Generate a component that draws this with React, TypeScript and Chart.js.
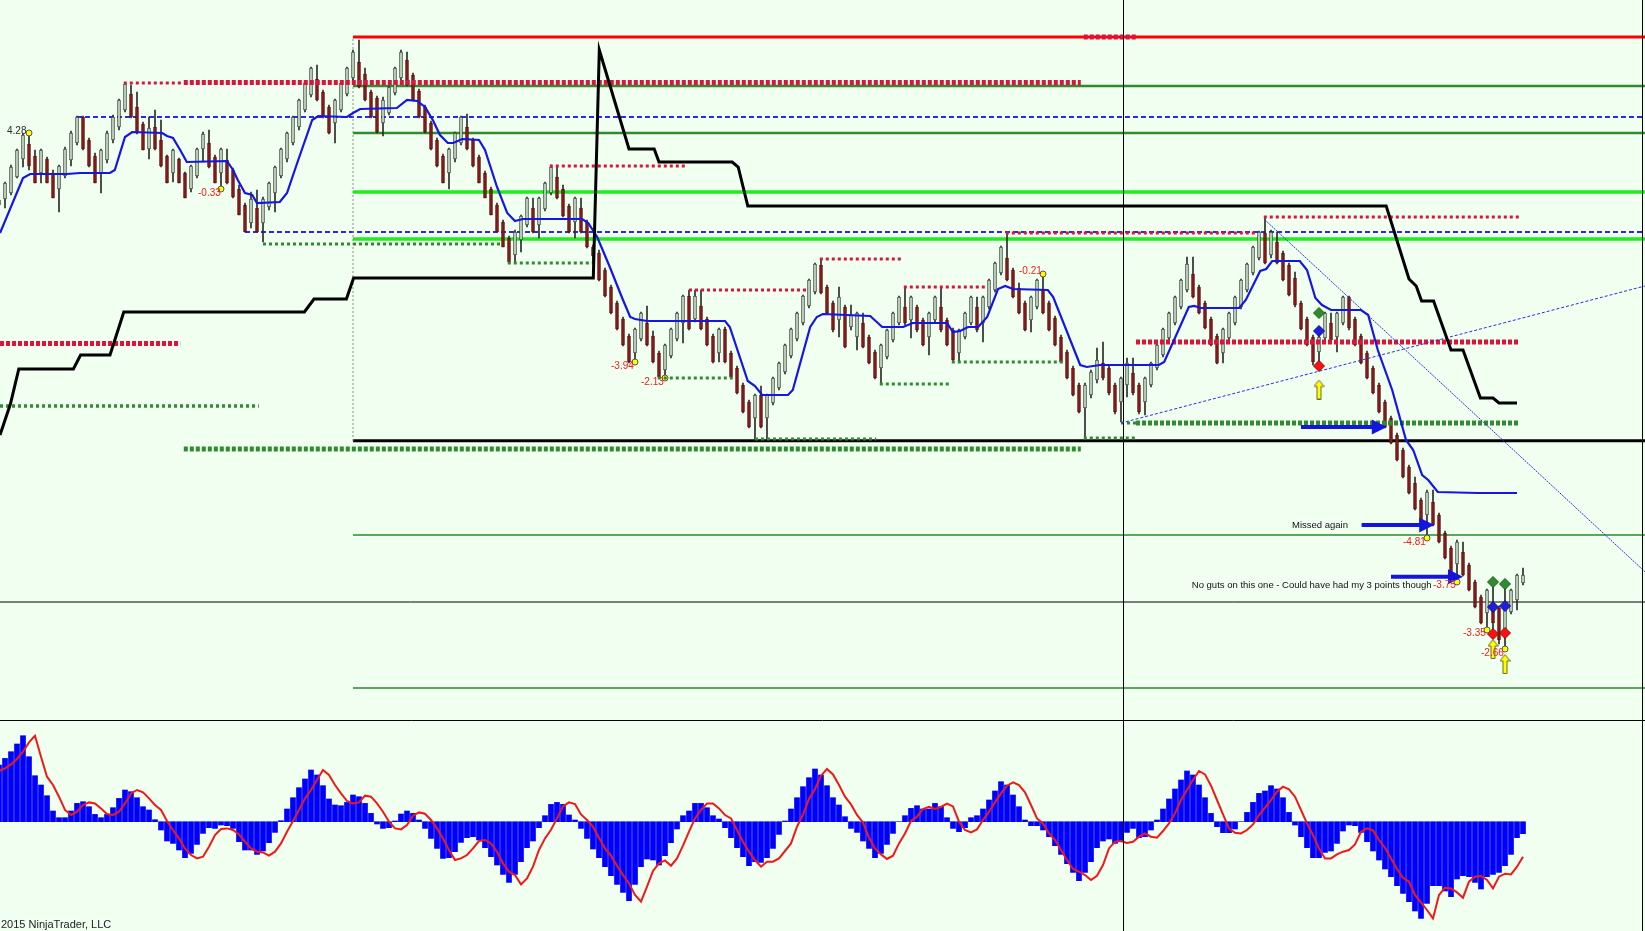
import React, { useEffect, useRef } from "react";
import { Chart, registerables } from "chart.js";

Chart.register(...registerables);

// ---------- visible window (bar index units) ----------
const firstVisibleBar = 1 / 6;
const lastVisibleBar = 1646 / 6;

// ---------- range-bar candles, bar 0..254 ----------
const candleOpen = [
  515, 521, 527, 543, 561, 576, 564, 547, 561, 547,
  531, 544, 560, 577, 603, 580, 564, 547, 560, 580,
  593, 610, 626, 613, 596, 571, 593, 580, 564, 547,
  561, 547, 531, 544, 571, 577, 563, 547, 560, 550,
  531, 515, 497, 512, 497, 513, 527, 544, 561, 577,
  593, 610, 625, 641, 628, 613, 597, 610, 626, 642,
  658, 646, 628, 622, 597, 607, 627, 642, 660, 645,
  629, 613, 597, 580, 564, 547, 561, 577, 593, 580,
  563, 547, 531, 515, 498, 482, 465, 480, 495, 512,
  495, 511, 527, 543, 531, 514, 498, 512, 498, 473,
  467, 450, 433, 417, 401, 384, 367, 381, 397, 384,
  367, 350, 364, 381, 397, 424, 401, 414, 401, 384,
  367, 391, 367, 352, 335, 318, 302, 325, 302, 317,
  332, 348, 364, 381, 397, 414, 428, 455, 433, 417,
  400, 413, 393, 383, 397, 383, 368, 352, 363, 380,
  397, 413, 400, 413, 400, 383, 400, 413, 400, 390,
  367, 383, 397, 413, 397, 413, 430, 447, 462, 450,
  432, 417, 400, 413, 430, 417, 402, 383, 368, 352,
  335, 312, 325, 340, 357, 352, 335, 318, 335, 347,
  335, 318, 335, 352, 365, 382, 397, 413, 430, 446,
  433, 417, 401, 384, 367, 382, 397, 413, 430, 447,
  462, 487, 465, 478, 467, 455, 442, 417, 401, 383,
  368, 382, 397, 383, 397, 423, 401, 384, 367, 352,
  335, 318, 302, 285, 270, 253, 237, 220, 205, 218,
  205, 187, 172, 156, 168, 155, 138, 123, 107, 117,
  112, 90, 108, 120, 137,
];
const candleHigh = [
  522, 538, 555, 571, 586, 588, 570, 571, 563, 550,
  555, 573, 589, 604, 604, 582, 567, 571, 589, 605,
  621, 637, 635, 628, 598, 603, 610, 600, 565, 571,
  562, 548, 555, 572, 588, 590, 565, 572, 571, 552,
  535, 517, 528, 530, 523, 538, 554, 572, 588, 604,
  621, 638, 653, 655, 630, 615, 621, 638, 653, 670,
  680, 652, 630, 624, 623, 634, 653, 670, 668, 647,
  631, 615, 599, 582, 566, 572, 588, 604, 606, 582,
  565, 549, 533, 517, 500, 484, 490, 505, 523, 522,
  523, 538, 555, 553, 535, 516, 523, 522, 500, 475,
  470, 452, 435, 419, 403, 386, 392, 408, 414, 389,
  369, 376, 392, 408, 425, 430, 430, 430, 403, 386,
  392, 393, 369, 354, 337, 320, 326, 334, 326, 343,
  358, 376, 392, 408, 425, 441, 457, 460, 435, 419,
  433, 415, 415, 408, 407, 385, 370, 376, 391, 408,
  424, 433, 424, 415, 402, 408, 424, 432, 402, 392,
  391, 408, 424, 423, 424, 441, 458, 474, 487, 452,
  437, 419, 424, 441, 446, 419, 404, 385, 370, 354,
  337, 337, 350, 372, 378, 355, 337, 343, 362, 362,
  337, 343, 358, 376, 392, 408, 424, 441, 463, 463,
  435, 419, 403, 386, 392, 408, 424, 441, 457, 474,
  489, 502, 490, 488, 469, 457, 448, 419, 403, 385,
  387, 408, 407, 408, 424, 424, 403, 386, 369, 354,
  337, 320, 304, 287, 272, 255, 243, 222, 230, 230,
  207, 189, 174, 180, 178, 157, 140, 125, 131, 138,
  114, 137, 131, 146, 152,
];
const candleLow = [
  510, 512, 525, 542, 553, 550, 537, 537, 537, 522,
  508, 542, 554, 575, 570, 553, 537, 527, 557, 577,
  590, 608, 602, 586, 570, 561, 570, 553, 537, 538,
  537, 522, 528, 542, 558, 552, 537, 531, 536, 522,
  505, 488, 492, 488, 478, 510, 508, 542, 558, 575,
  590, 608, 623, 619, 602, 586, 577, 608, 624, 640,
  632, 619, 602, 587, 584, 605, 625, 640, 634, 619,
  602, 587, 570, 553, 537, 531, 558, 575, 570, 553,
  537, 522, 505, 488, 473, 457, 458, 468, 493, 487,
  482, 509, 525, 521, 503, 487, 482, 487, 472, 458,
  439, 423, 406, 390, 374, 357, 358, 379, 374, 357,
  342, 342, 362, 379, 377, 390, 398, 390, 374, 357,
  358, 357, 342, 326, 307, 292, 281, 292, 281, 315,
  330, 346, 362, 379, 395, 412, 426, 426, 406, 388,
  383, 372, 390, 370, 372, 356, 341, 336, 361, 378,
  395, 395, 382, 388, 374, 365, 398, 388, 374, 358,
  359, 381, 395, 388, 378, 411, 428, 445, 439, 422,
  406, 389, 388, 411, 406, 389, 374, 358, 341, 324,
  307, 282, 322, 337, 340, 325, 306, 298, 323, 325,
  306, 305, 333, 350, 363, 380, 395, 411, 428, 422,
  406, 391, 374, 356, 357, 380, 395, 411, 428, 445,
  460, 456, 462, 456, 439, 424, 413, 390, 374, 355,
  357, 380, 378, 368, 395, 390, 374, 356, 341, 326,
  307, 292, 276, 259, 242, 226, 210, 196, 182, 194,
  177, 161, 144, 138, 144, 129, 112, 96, 90, 86,
  76, 71, 106, 110, 135,
];
const candleClose = [
  520, 537, 553, 570, 585, 554, 537, 570, 537, 522,
  554, 571, 587, 603, 571, 554, 537, 570, 587, 603,
  620, 636, 603, 587, 570, 592, 571, 554, 537, 570,
  537, 522, 554, 571, 586, 553, 537, 571, 537, 523,
  505, 488, 521, 488, 521, 537, 553, 571, 587, 603,
  620, 637, 652, 620, 603, 587, 620, 637, 652, 668,
  633, 620, 603, 588, 620, 633, 652, 668, 635, 620,
  603, 588, 571, 554, 537, 571, 587, 603, 571, 554,
  537, 522, 505, 488, 473, 458, 488, 504, 522, 488,
  522, 537, 553, 522, 504, 488, 522, 488, 473, 464,
  440, 424, 407, 391, 375, 358, 391, 407, 375, 358,
  343, 375, 391, 407, 424, 391, 424, 391, 375, 358,
  391, 358, 343, 327, 308, 293, 325, 293, 325, 342,
  357, 375, 391, 407, 424, 440, 456, 427, 407, 390,
  423, 373, 405, 407, 373, 357, 342, 375, 390, 407,
  423, 397, 423, 390, 375, 407, 423, 390, 375, 360,
  390, 407, 423, 390, 423, 440, 457, 473, 440, 423,
  407, 390, 423, 440, 407, 390, 375, 358, 342, 325,
  308, 335, 348, 360, 342, 327, 308, 342, 357, 327,
  308, 342, 357, 375, 391, 407, 423, 440, 456, 423,
  407, 392, 375, 357, 391, 407, 423, 440, 456, 473,
  488, 457, 488, 457, 440, 425, 415, 391, 375, 358,
  383, 407, 380, 407, 423, 392, 375, 357, 342, 327,
  308, 293, 277, 260, 243, 227, 211, 197, 228, 195,
  178, 162, 145, 178, 145, 130, 113, 97, 130, 97,
  80, 113, 130, 145, 145,
];

// ---------- smoothed average (blue) vertices [bar, price] ----------
const averagePath = [
  [0.17, 487], [4, 542], [5.2, 546], [11.3, 546], [13.5, 547], [18.5, 547], [19.3, 550], [21, 583],
  [22.2, 588], [27.2, 587], [28, 584], [29, 582], [30.2, 570], [31.3, 558], [38, 559], [39, 550],
  [39.8, 540], [41, 527], [42.2, 525], [43, 517], [46.8, 518], [48, 527], [49.7, 557], [52.2, 600],
  [53.2, 604], [58, 603], [59, 607], [60.2, 611], [66.3, 612], [68, 620], [69.7, 619], [71, 613],
  [72.3, 600], [73.5, 585], [74.8, 577], [75.7, 577], [77.2, 581], [80, 580], [81, 570], [83, 533],
  [84.7, 507], [86, 499], [87.3, 501], [97.2, 501], [98.2, 497], [99.7, 483], [101.8, 453], [104, 420],
  [105.2, 403], [106, 401], [108, 399], [121, 399], [121.8, 393], [124.8, 339], [126, 334], [127.2, 325],
  [131.5, 325], [132.3, 330], [135.2, 393], [136.3, 403], [137.3, 406], [145.2, 404], [147.2, 393],
  [150.7, 393], [152.3, 397], [158, 397], [159, 388], [160.2, 389], [161.5, 393], [163.2, 393],
  [164.7, 403], [166.5, 431], [167.7, 434], [169, 431], [174.8, 430], [175.7, 423], [180.2, 355],
  [181.3, 353], [183.5, 355], [193.3, 355], [194.2, 358], [198.3, 413], [199.2, 414], [200.3, 412],
  [206.7, 412], [207.8, 420], [210.2, 449], [211.2, 451], [212.2, 459], [216.8, 459], [218, 450],
  [219.4, 422], [220.5, 415], [222, 410], [227, 410], [228.2, 405], [229.8, 370], [232.2, 330],
  [234.5, 280], [235.7, 270], [237.2, 245], [238.2, 240], [239.8, 228], [246.5, 227], [253, 227],
];

// ---------- stepped trailing line (black) vertices [bar, price] ----------
const trailPath = [
  [0.17, 285], [1.9, 316], [3.3, 351], [12.4, 351], [13.6, 365], [18.5, 365], [20.8, 408], [50.9, 408],
  [52.5, 421], [57.9, 421], [59.1, 442], [99.05, 442], [100.05, 670], [105, 571], [109.2, 571], [110, 558],
  [122.2, 558], [123.2, 553], [124.8, 514], [231.2, 514], [235, 441], [236.2, 434], [237.1, 419],
  [239.1, 419], [242, 370], [244, 370], [246.9, 322], [249, 322], [250, 317], [253, 317],
];

// ---------- horizontal levels ----------
const levelStartBar = 59;
const redLevels = [683];
const darkGreenLevels = [634, 587];
const limeLevels = [528, 481];
const blackLevels = [279.3];
const thinGreenLevels = [185, 32];
const blueDashLevels = [[13, 603], [41, 488]]; // [start bar, price]

// swing dots [from bar, to bar, price]
const swingHighDots = [
  [20.8, 30.8, 637], [91.8, 114.5, 554], [115, 134.5, 430], [136.8, 150.5, 461],
  [150.8, 164.7, 433], [167.8, 209.5, 487], [210.8, 253.5, 503],
];
const swingLowDots = [
  [44, 83.5, 476], [84.8, 99.3, 457], [109.8, 122.3, 342], [126, 146.2, 281],
  [146.8, 158.5, 336], [158.8, 177.3, 358], [180.8, 189.5, 282], [187, 189.5, 297],
];
const majorHighDots = [[0.17, 30.2, 376.5], [30.8, 180.3, 637.5], [180.8, 189.5, 683], [189.5, 253.5, 378]];
const majorLowDots = [[30.8, 180.3, 271], [189.5, 253.5, 297]];
const minorLowDots = [[0.17, 43.3, 314]];

// trend lines [bar a, price a, bar b, price b]
const trendLines = [[211, 500, 274.3, 148.4], [187, 297, 274.3, 434]];
const sessionBar = 59;
const sessionSpan = [279, 683];
const crosshairBar = 187.42;
const crosshairPrice = 118;

// markers
const swingDots = [[5, 587], [37, 531], [106, 358], [174, 446], [238, 182], [243, 138], [248, 90], [251, 71]];
const swingDotsCovered = [[111, 342]];
const greenDiamonds = [[220, 407], [249, 138], [251, 136]];
const blueDiamonds = [[220, 389], [249, 113], [251, 114]];
const redDiamonds = [[220, 354], [249, 86], [251, 87]];
const entryArrows = [[220, 330.5], [249, 71], [251, 56]];
const noteArrows = [[217, 231.3, 293], [227.1, 239.2, 195], [232, 244, 143.3]]; // [from bar, to bar, price]

const swingLabels: [number, number, string][] = [
  [1.33, 589, "4.28"], [33.17, 527, "-0.33"], [102, 354, "-3.94"], [107, 338, "-2.13"],
  [170, 449, "-0.21"], [234, 178, "-4.81"], [239, 135, "-3.75"], [244, 87, "-3.35"], [247, 67, "-2.66"],
];
const noteTexts: [number, number, string][] = [
  [215.5, 195, "Missed again"],
  [198.8, 135, "No guts on this one - Could have had my 3 points though"],
];

// ---------- oscillator ----------
const oscHistogram = [
  56.7, 63.3, 70, 77.7, 86, 65, 46, 36.7, 26, 10.7,
  4, 4, 10.7, 18.3, 20, 15, 7.3, 4, 7.3, 14,
  23.3, 31.7, 30, 24, 15, 11.7, 2, -8.3, -19.3, -21.7,
  -28.3, -36, -31.7, -22.7, -11.7, -6, -6.7, -3.3, -4, -6.7,
  -20, -28.3, -28.3, -32.7, -29.3, -21, -10.7, 1, 12.7, 24,
  34, 42.7, 51.7, 46.7, 36, 22.7, 16.7, 16, 19.3, 26.7,
  25, 18.3, 8.3, -2.3, -6.7, -6, 0.7, 7.7, 10.7, 8.3,
  1.7, -6.7, -16.7, -26.7, -36.7, -36, -30, -20.7, -16, -15,
  -18.3, -26, -35, -43.3, -52.7, -60.7, -52.7, -40, -26, -19.3,
  -6, 6, 17.3, 19.3, 17.3, 6.7, 1.7, -6.7, -16.7, -27.3,
  -36, -45, -54, -62.7, -70.7, -79, -62.7, -45, -37.3, -38.3,
  -43.3, -34, -21, -7.3, 6, 10.7, 18.3, 18.3, 14, 6,
  2.7, -6, -16, -26, -35, -44, -40, -40.7, -36, -26.7,
  -12.7, 0.7, 12.7, 24, 35, 44, 52.7, 46.7, 36, 24,
  16.7, 5, -6.7, -10.7, -19.3, -26.7, -36, -31.7, -22.7, -11.7,
  0, 6, 13.3, 16, 12.7, 12.7, 18.3, 15, 4, -6.7,
  -10, -6, 4, 6, 12.7, 21.7, 30.7, 40, 36.7, 26.7,
  15, 1.7, -4, -4, -8.3, -15, -24, -32.7, -42, -50.7,
  -59, -50.7, -40, -26, -19.3, -17.3, -21.7, -19.3, -10.7, -6.7,
  -16, -15, -8.3, 1.7, 12.7, 22.7, 32.7, 41.7, 50.7, 46.7,
  36.7, 24, 8.3, -5, -11, -11, -7.3, 0, 9.3, 19.3,
  28.3, 30.7, 36, 32.7, 24, 9.3, -3.3, -15, -26, -36,
  -36, -30.7, -29.3, -21.7, -9.3, -3.3, -4, -10.7, -20, -29.3,
  -38.3, -47.3, -55, -64, -71.7, -80, -89.3, -96.7, -81.7, -64,
  -64, -69.3, -75, -57.3, -54, -55, -60.7, -67.3, -55, -52.7,
  -50.7, -44, -32.7, -16, -12,
];
const oscSignal = [
  50.7, 53.3, 57.3, 62.7, 70, 79.3, 86, 65, 45, 36.7,
  25, 11.7, 6.7, 10, 16.7, 19.3, 18.3, 13.3, 7.7, 6.7,
  10, 18.3, 28.3, 31.7, 29.3, 23.3, 16.7, 11.7, 0.7, -8.3,
  -16.7, -26.7, -33.3, -36.7, -35, -25, -13.3, -7.3, -6.7, -8.3,
  -12.7, -20, -26.7, -30, -30.7, -34, -30, -21.7, -10, 0.7,
  11.7, 23.3, 31.7, 41.7, 51.7, 46.7, 36.7, 28.3, 20.7, 18.3,
  19.3, 26, 25, 18.3, 10, 0, -6.7, -7.7, -3.3, 6,
  9.3, 8, 1.7, -6.7, -16.7, -28.3, -38.3, -36.7, -33.3, -26.7,
  -19.3, -18.3, -21.7, -30, -41.7, -50, -53.3, -62.7, -56.7, -45,
  -28.3, -16.7, -8, 3.3, 15.3, 19.3, 17.7, 7.3, 1.7, -5,
  -16, -26.7, -34, -44, -53.3, -61.7, -73.3, -80, -65, -49.3,
  -41.7, -38.7, -44, -36.7, -24, -10, 3.3, 11.7, 18.3, 18.3,
  13.3, 6.7, 3.3, -8.3, -20, -30, -38.3, -45, -40, -40,
  -36.7, -29.3, -21.7, -5, 7.3, 22.7, 32.7, 46, 52.7, 47.3,
  36.7, 25, 17.3, 6.7, -0.7, -16, -26.7, -32.7, -37.3, -34,
  -21.7, -11.7, 0.7, 5, 12.7, 15, 12.7, 14.7, 18, 15.3,
  0, -8.3, -10.7, -7.7, 1.7, 10, 19.3, 28.3, 36, 39.3,
  36.7, 29.3, 16.7, 3.3, -1.7, -11.7, -18.3, -28.3, -38.3, -47.3,
  -50, -53.3, -58.3, -54, -43.3, -26.7, -20, -19.3, -21.3, -20,
  -15, -11.7, -15, -16, -9.3, -1.7, 8.3, 21.7, 31.7, 41.7,
  50.7, 47.3, 36, 21.7, 7.3, -6.7, -11, -11.7, -8.3, -2.7,
  6.7, 14, 21.7, 30, 35, 32.3, 25, 11.7, -1.7, -13.3,
  -26.7, -36.7, -36.7, -32.7, -30, -28.3, -22.7, -10, -6.7, -8.7,
  -18.3, -26, -36.7, -47.3, -56, -60, -73.3, -80.7, -88.3, -96.7,
  -73.3, -66, -66.7, -70.7, -76, -60, -55, -54.3, -58.3, -66.7,
  -55, -52, -52.7, -45, -35,
];

// ---------- helpers ----------
const segs = (list: number[][]) =>
  list.flatMap(([a, b, p]) => [{ x: a, y: p }, { x: b, y: p }, { x: b, y: null as any }]);
const pts = (list: number[][]) => list.map(([a, b]) => ({ x: a, y: b }));

const lineDs = (data: any[], color: string, width: number, order: number, dash: number[] = []) => ({
  type: "line",
  data,
  borderColor: color,
  borderWidth: width,
  borderDash: dash,
  borderCapStyle: "butt",
  pointRadius: 0,
  fill: false,
  tension: 0,
  spanGaps: false,
  order,
});

const markerDs = (data: any[], style: any, radius: number, fill: string, stroke: string, order: number) => ({
  type: "line",
  data,
  showLine: false,
  pointStyle: style,
  pointRadius: radius,
  pointBackgroundColor: fill,
  pointBorderColor: stroke,
  pointBorderWidth: 1,
  order,
});

function makeUpArrow() {
  const c = document.createElement("canvas");
  c.width = 11;
  c.height = 20;
  const g = c.getContext("2d")!;
  g.beginPath();
  g.moveTo(5.5, 0.5);
  g.lineTo(10.5, 7);
  g.lineTo(7.5, 7);
  g.lineTo(7.5, 19.5);
  g.lineTo(3.5, 19.5);
  g.lineTo(3.5, 7);
  g.lineTo(0.5, 7);
  g.closePath();
  g.fillStyle = "#ffff00";
  g.fill();
  g.strokeStyle = "#6b6b30";
  g.lineWidth = 1;
  g.stroke();
  return c;
}

const FONT = "'Liberation Sans', Arial, sans-serif";

const mainOverlay = {
  id: "mainOverlay",
  afterDatasetsDraw(chart: any) {
    const { ctx, chartArea } = chart;
    const x = chart.scales.x;
    const y = chart.scales.y;
    ctx.save();
    ctx.strokeStyle = "#1414dc";
    ctx.fillStyle = "#1414dc";
    ctx.lineWidth = 4;
    for (const [a, b, p] of noteArrows) {
      const x1 = x.getPixelForValue(a);
      const x2 = x.getPixelForValue(b);
      const yy = y.getPixelForValue(p);
      ctx.beginPath();
      ctx.moveTo(x1, yy);
      ctx.lineTo(x2 - 12, yy);
      ctx.stroke();
      ctx.beginPath();
      ctx.moveTo(x2, yy);
      ctx.lineTo(x2 - 15, yy - 7.5);
      ctx.lineTo(x2 - 15, yy + 7.5);
      ctx.closePath();
      ctx.fill();
    }
    ctx.textBaseline = "middle";
    ctx.textAlign = "left";
    ctx.font = `10px ${FONT}`;
    for (const [bar, price, text] of swingLabels) {
      ctx.fillStyle = text.startsWith("-") ? "#f01c1c" : "#2a2a2a";
      ctx.fillText(text, x.getPixelForValue(bar), y.getPixelForValue(price));
    }
    ctx.font = `9.5px ${FONT}`;
    ctx.fillStyle = "#111";
    for (const [bar, price, text] of noteTexts) {
      ctx.fillText(text, x.getPixelForValue(bar), y.getPixelForValue(price));
    }
    ctx.strokeStyle = "#000";
    ctx.lineWidth = 1;
    ctx.beginPath();
    ctx.moveTo(chartArea.right - 2.5, chartArea.top);
    ctx.lineTo(chartArea.right - 2.5, chartArea.bottom);
    ctx.stroke();
    ctx.restore();
  },
};

const oscOverlay = {
  id: "oscOverlay",
  afterDatasetsDraw(chart: any) {
    const { ctx, chartArea } = chart;
    ctx.save();
    ctx.strokeStyle = "#000";
    ctx.lineWidth = 1;
    ctx.beginPath();
    ctx.moveTo(chartArea.left, chartArea.top + 0.5);
    ctx.lineTo(chartArea.right, chartArea.top + 0.5);
    ctx.moveTo(chartArea.right - 2.5, chartArea.top);
    ctx.lineTo(chartArea.right - 2.5, chartArea.bottom);
    ctx.stroke();
    ctx.font = `11px ${FONT}`;
    ctx.fillStyle = "#222";
    ctx.textBaseline = "middle";
    ctx.fillText("2015 NinjaTrader, LLC", chartArea.left + 1, chartArea.bottom - 6);
    ctx.restore();
  },
};

const baseOptions = (yMin: number, yMax: number) => ({
  responsive: false,
  maintainAspectRatio: false,
  animation: false,
  devicePixelRatio: 1,
  events: [],
  layout: { padding: 0, autoPadding: false },
  plugins: { legend: { display: false }, tooltip: { enabled: false } },
  scales: {
    x: { type: "linear", min: firstVisibleBar, max: lastVisibleBar, display: false, offset: false },
    y: { type: "linear", min: yMin, max: yMax, display: false },
  },
});

export default function App() {
  const mainRef = useRef<HTMLCanvasElement>(null);
  const oscRef = useRef<HTMLCanvasElement>(null);

  useEffect(() => {
    const arrowImg = makeUpArrow();
    const isUp = candleOpen.map((o, i) => candleClose[i] >= o);

    const wicks = candleOpen.map((_, i) => ({ x: i, y: [candleLow[i], candleHigh[i]] }));
    const bodies = candleOpen.map((o, i) => ({
      x: i,
      y: [Math.min(o, candleClose[i]), Math.max(o, candleClose[i])],
    }));
    const full = (levels: number[]) => levels.map((p) => [levelStartBar, lastVisibleBar, p]);

    const mainDatasets: any[] = [
      lineDs(segs(full(thinGreenLevels)), "#2a8a2a", 1.5, 9),
      lineDs(segs(full(blackLevels)), "#000000", 3, 9),
      lineDs(segs(full(limeLevels)), "#1eee1e", 3.5, 9),
      lineDs(segs(full(darkGreenLevels)), "#2e8b2e", 2.6, 9),
      lineDs(segs(full(redLevels)), "#ff0000", 3.2, 9),
      lineDs(segs(blueDashLevels.map(([b, p]) => [b, lastVisibleBar, p])), "#2a2ae0", 2, 9, [5, 3]),
      lineDs([{ x: 0, y: crosshairPrice }, { x: lastVisibleBar, y: crosshairPrice }], "#000000", 1, 9),
      lineDs(
        [{ x: sessionBar, y: sessionSpan[0] }, { x: sessionBar, y: sessionSpan[1] }],
        "#8a8a8a", 1, 8, [2, 2]
      ),
      {
        type: "bar",
        data: wicks,
        backgroundColor: "#2b2b2b",
        barThickness: 1,
        grouped: false,
        order: 7,
      },
      {
        type: "bar",
        data: bodies,
        backgroundColor: isUp.map((u) => (u ? "#cfe3cf" : "#8c1a1a")),
        borderColor: isUp.map((u) => (u ? "#3c4a3c" : "#5e1010")),
        borderWidth: 1,
        borderSkipped: false,
        barThickness: 3,
        minBarLength: 2,
        grouped: false,
        order: 6,
      },
      markerDs(pts(swingDotsCovered), "circle", 3, "#ffff00", "#555", 5.5),
      lineDs(segs(majorLowDots), "#2e8b2e", 5, 5, [4, 2]),
      lineDs(segs(majorHighDots), "#dc143c", 5, 5, [4, 2]),
      lineDs(segs(minorLowDots), "#2e8b2e", 3.5, 5, [3, 3]),
      lineDs(segs(swingLowDots), "#2e8b2e", 3, 5, [3, 3]),
      lineDs(segs(swingHighDots), "#dc143c", 3, 5, [3, 3]),
      lineDs(
        [{ x: trendLines[0][0], y: trendLines[0][1] }, { x: trendLines[0][2], y: trendLines[0][3] }],
        "#2c2ce8", 1, 4, [2, 1]
      ),
      lineDs(
        [{ x: trendLines[1][0], y: trendLines[1][1] }, { x: trendLines[1][2], y: trendLines[1][3] }],
        "#2c2ce8", 1, 4, [3, 2]
      ),
      lineDs([{ x: crosshairBar, y: 0 }, { x: crosshairBar, y: 720 }], "#000000", 1, 4),
      lineDs(pts(averagePath), "#1515e6", 2.2, 3),
      lineDs(pts(trailPath), "#000000", 3, 2),
      markerDs(pts(swingDots), "circle", 3, "#ffff00", "#555", 1),
      markerDs(pts(greenDiamonds), "rectRot", 5.5, "#2e8b2e", "#1d5e1d", 1),
      markerDs(pts(blueDiamonds), "rectRot", 5.5, "#1e1ee0", "#10107a", 1),
      markerDs(pts(redDiamonds), "rectRot", 5.5, "#ff1010", "#8a0a0a", 1),
      markerDs(pts(entryArrows), arrowImg, 10, "#ffff00", "#555", 0),
    ];

    const main = new Chart(mainRef.current as HTMLCanvasElement, {
      type: "bar",
      data: { datasets: mainDatasets },
      options: baseOptions(0, 720) as any,
      plugins: [mainOverlay],
    } as any);

    const osc = new Chart(oscRef.current as HTMLCanvasElement, {
      type: "bar",
      data: {
        datasets: [
          {
            type: "bar",
            data: oscHistogram.map((v, i) => ({ x: i, y: v })),
            backgroundColor: "#0000ff",
            barThickness: 5,
            grouped: false,
            order: 2,
          },
          lineDs(oscSignal.map((v, i) => ({ x: i, y: v })), "#f01818", 2, 1),
          lineDs([{ x: crosshairBar, y: -200 }, { x: crosshairBar, y: 200 }], "#000000", 1, 0),
        ] as any[],
      },
      options: baseOptions(-109.3, 101.7) as any,
      plugins: [oscOverlay],
    } as any);

    return () => {
      main.destroy();
      osc.destroy();
    };
  }, []);

  return (
    <div
      style={{
        position: "fixed",
        left: 0,
        top: 0,
        width: 1645,
        height: 931,
        background: "#f0fff0",
        overflow: "hidden",
      }}
    >
      <canvas ref={mainRef} width={1645} height={720} style={{ display: "block", width: 1645, height: 720 }} />
      <canvas ref={oscRef} width={1645} height={211} style={{ display: "block", width: 1645, height: 211 }} />
    </div>
  );
}
